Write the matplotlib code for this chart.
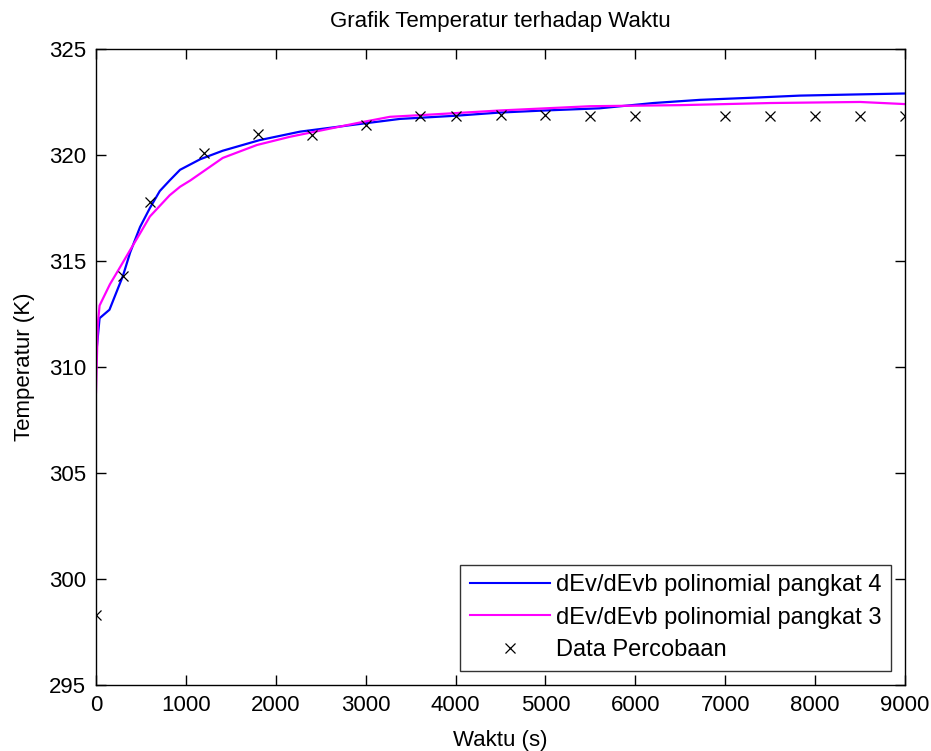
import matplotlib
matplotlib.use("Agg")
import matplotlib.pyplot as plt

plt.rcParams['font.family'] = ['Liberation Sans', 'DejaVu Sans']

# Hasil simulasi dEv/dEvb polinomial pangkat 4 (biru)
t_p4 = [0, 40, 150, 300, 380, 490, 600, 710, 820, 935, 1160, 1410, 1820, 2270,
        2820, 3380, 4000, 4490, 5000, 5600, 6200, 6720, 7300, 7830, 8400, 9000]
T_p4 = [310.5, 312.3, 312.7, 314.3, 315.4, 316.6, 317.5, 318.3, 318.8, 319.3,
        319.8, 320.2, 320.7, 321.1, 321.4, 321.7, 321.85, 322.0, 322.1, 322.2,
        322.45, 322.6, 322.7, 322.8, 322.85, 322.9]

# Hasil simulasi dEv/dEvb polinomial pangkat 3 (magenta)
t_p3 = [0, 20, 40, 155, 267, 378, 490, 600, 710, 820, 935, 1050, 1410, 1790,
        2160, 2530, 2900, 3270, 3700, 4500, 5500, 6500, 7500, 8500, 9000]
T_p3 = [308.8, 312.0, 312.9, 313.9, 314.7, 315.5, 316.3, 317.1, 317.6, 318.1,
        318.5, 318.8, 319.86, 320.47, 320.86, 321.18, 321.5, 321.8, 321.9,
        322.1, 322.3, 322.35, 322.45, 322.5, 322.4]

# Data percobaan
t_data = [0, 300, 600, 1200, 1800, 2400, 3000, 3600, 4000, 4500, 5000, 5500,
          6000, 7000, 7500, 8000, 8500, 9000]
T_data = [298.3, 314.3, 317.8, 320.1, 321.0, 320.95, 321.4, 321.85, 321.85,
          321.9, 321.9, 321.85, 321.85, 321.85, 321.85, 321.85, 321.85, 321.85]

fig = plt.figure(figsize=(9.31, 7.51), dpi=100)
ax = fig.add_axes([0.1031, 0.0879, 0.869, 0.8469])

ax.plot(t_p4, T_p4, color='blue', lw=1.6, label='dEv/dEvb polinomial pangkat 4')
ax.plot(t_p3, T_p3, color='magenta', lw=1.6, label='dEv/dEvb polinomial pangkat 3')
ax.plot(t_data, T_data, 'x', color='black', ms=7, mew=0.9, label='Data Percobaan')

ax.set_xlim(0, 9000)
ax.set_ylim(295, 325)
ax.set_xticks(range(0, 9001, 1000))
ax.set_yticks(range(295, 326, 5))
ax.tick_params(direction='in', top=True, right=True, length=7, width=1,
               labelsize=16, pad=7)
for s in ax.spines.values():
    s.set_linewidth(1)

ax.set_title('Grafik Temperatur terhadap Waktu', fontsize=16, pad=16)
ax.set_xlabel('Waktu (s)', fontsize=16, labelpad=10)
ax.set_ylabel('Temperatur (K)', fontsize=16, labelpad=10)

leg = ax.legend(loc='lower right', fontsize=17, frameon=True, fancybox=False,
                edgecolor='black', borderaxespad=0.6, handlelength=3.4,
                labelspacing=0.45, borderpad=0.4, handletextpad=0.25)
leg.get_frame().set_linewidth(1)
leg.legend_handles[0].set_linewidth(1.5)
leg.legend_handles[1].set_linewidth(1.5)

fig.savefig('out.png', dpi=100)
